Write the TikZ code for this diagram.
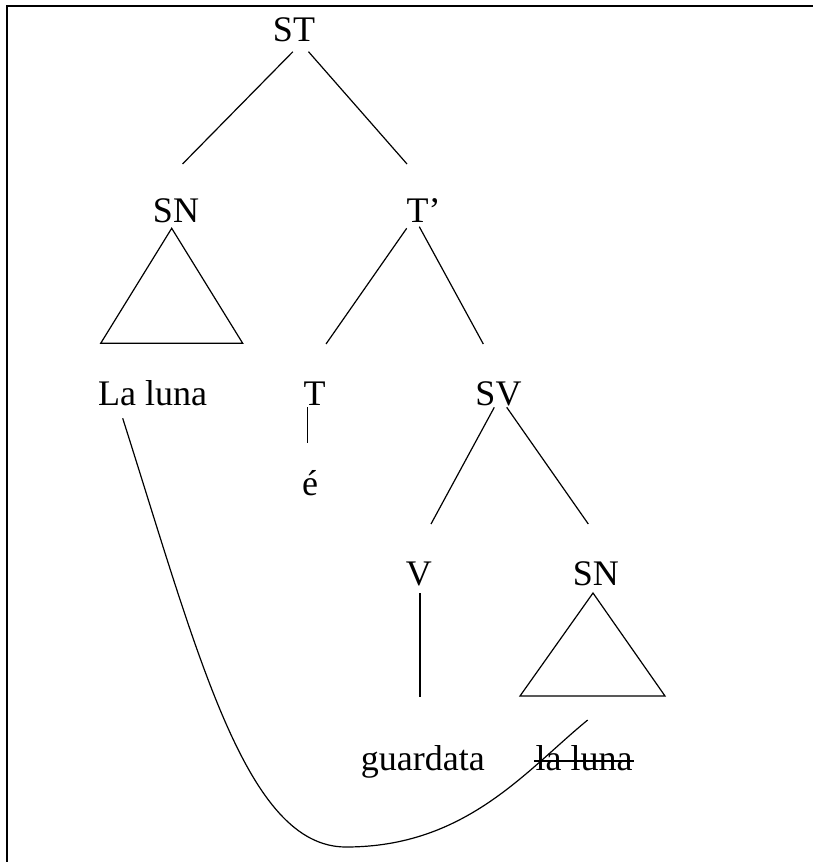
\documentclass[tikz,border=0pt]{standalone}
\usepackage{fontspec}
\setmainfont{Liberation Serif}
\begin{document}
\begin{tikzpicture}[x=0.75pt,y=-0.75pt,
  lbl/.style={inner sep=0pt,anchor=base,font=\fontsize{27}{32}\selectfont},
  edge/.style={line width=0.9pt},
  frame/.style={line width=1.5pt}]
\useasboundingbox (0,0) rectangle (813,862);
\draw[frame] (6.5,862) -- (6.5,6.5) -- (813,6.5);
% labels
\node[lbl] (ST) at (294,41.7) {ST};
\node[lbl] (SNa) at (176,222.7) {SN};
\node[lbl] (Tb) at (423.5,222.7) {T’};
\node[lbl] (LL) at (152.7,405) {La luna};
\node[lbl] (T) at (314.5,405) {T};
\node[lbl] (SV) at (498.5,405) {SV};
\node[lbl] (E) at (310,495) {é};
\node[lbl] (V) at (418.8,585) {V};
\node[lbl] (SNb) at (595.8,585) {SN};
\node[lbl] (G) at (422.8,770) {guardata};
\node[lbl] (ll) at (584.2,770) {la luna};
% endpoints
\coordinate (STl) at (292.9,51.7);   \coordinate (SNaT) at (182.5,164);
\coordinate (STr) at (308.5,51.7);   \coordinate (TbT) at (407,164);
\coordinate (Tbl) at (406.7,228.3);  \coordinate (TT) at (326,344);
\coordinate (Tbr) at (419.3,226.7);  \coordinate (SVT) at (483.3,344);
\coordinate (TB) at (307.7,407.3);   \coordinate (ET) at (307.7,443.3);
\coordinate (SVl) at (494.3,407.3);  \coordinate (VT) at (431,524);
\coordinate (SVr) at (506.7,407.3);  \coordinate (SNbT) at (588.3,524);
\coordinate (VB) at (420,593);       \coordinate (GT) at (420,697);
\coordinate (A1) at (171.7,228.3);   \coordinate (A2) at (100.7,343.3); \coordinate (A3) at (242.7,343.3);
\coordinate (B1) at (593,593);       \coordinate (B2) at (520,696);     \coordinate (B3) at (665,696);
\coordinate (CS) at (122.7,418.3);   \coordinate (CM) at (346,847);     \coordinate (CE) at (587.7,720);
% branches
\draw[edge] (STl) -- (SNaT);
\draw[edge] (STr) -- (TbT);
\draw[edge] (Tbl) -- (TT);
\draw[edge] (Tbr) -- (SVT);
\draw[edge] (TB) -- (ET);
\draw[edge] (SVl) -- (VT);
\draw[edge] (SVr) -- (SNbT);
\draw[edge] (VB) -- (GT);
% triangles
\draw[edge] (A1) -- (A2) -- (A3) -- cycle;
\draw[edge] (B1) -- (B2) -- (B3) -- cycle;
% strike
\draw[edge] ([shift={(-1.5,-9)}]ll.base west) -- ([shift={(1,-9)}]ll.base east);
% movement curve
\draw[edge] (CS) .. controls (198.5,656.5) and (246,847) .. (CM)
  .. controls (466,847) and (525.8,770.6) .. (CE);
\end{tikzpicture}
\end{document}
